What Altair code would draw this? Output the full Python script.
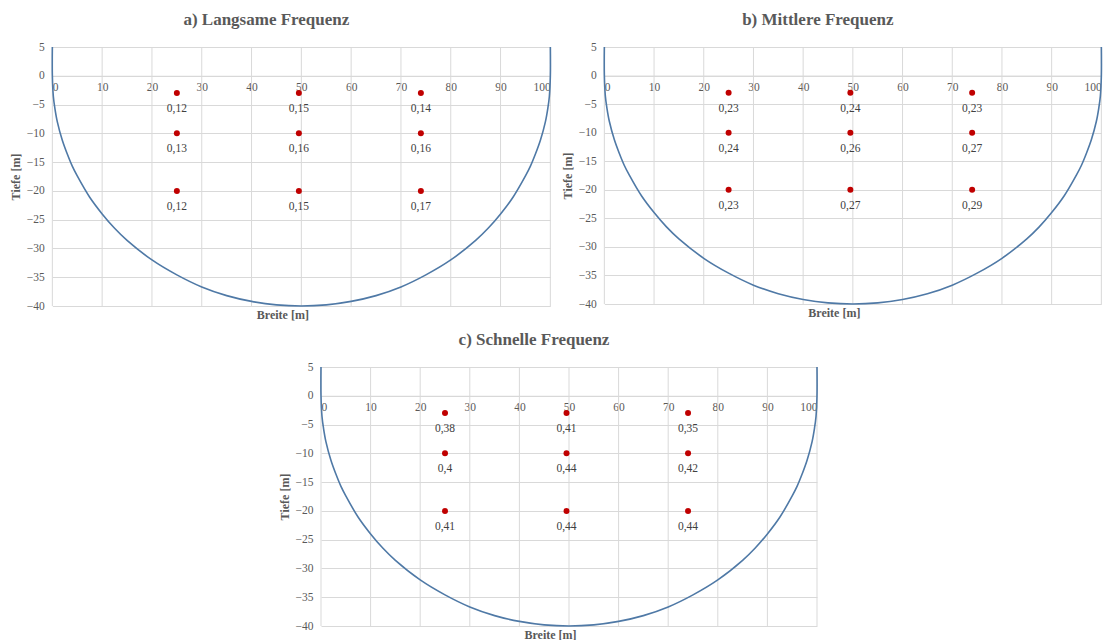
import altair as alt
import pandas as pd

# ---------------- data ----------------
panel_titles = ["a) Langsame Frequenz", "b) Mittlere Frequenz", "c) Schnelle Frequenz"]
point_x = [25, 49.5, 74]          # Breite [m] of the three measuring verticals
point_y = [-3, -10, -20]          # Tiefe [m] of the three measuring depths
# values per depth row (top, middle, bottom), columns left/middle/right
values_a = [[0.12, 0.15, 0.14], [0.13, 0.16, 0.16], [0.12, 0.15, 0.17]]
values_b = [[0.23, 0.24, 0.23], [0.24, 0.26, 0.27], [0.23, 0.27, 0.29]]
values_c = [[0.38, 0.41, 0.35], [0.40, 0.44, 0.42], [0.41, 0.44, 0.44]]

# outline of the basin
curve_x = [0, 0, 0.2, 0.5, 1, 2, 3, 4, 5, 7.5, 10, 12.5, 15, 20, 25, 30, 35, 40, 45, 50,
           55, 60, 65, 70, 75, 80, 85, 87.5, 90, 92.5, 95, 96, 97, 98, 99, 99.5, 99.8, 100, 100]
curve_y = [5, 0, -3.6, -5.6, -8.0, -11.2, -13.6, -15.7, -17.4, -21.1, -24, -26.5, -28.6, -32, -34.6, -36.7, -38.2, -39.2, -39.8, -40,
           -39.8, -39.2, -38.2, -36.7, -34.6, -32, -28.6, -26.5, -24, -21.1, -17.4, -15.7, -13.6, -11.2, -8.0, -5.6, -3.6, 0, 5]

x_ticks = [0, 10, 20, 30, 40, 50, 60, 70, 80, 90, 100]
y_ticks = [-40, -35, -30, -25, -20, -15, -10, -5, 0, 5]

SERIF = "Liberation Serif"
GRID = "#d9d9d9"
TXT = "#595959"

curve_df = pd.DataFrame({"x": curve_x, "y": curve_y, "o": list(range(len(curve_x)))})
grid_df = pd.DataFrame({"x": x_ticks})


def panel(title, vals, w, h):
    rows = []
    for i, yy in enumerate(point_y):
        for j, xx in enumerate(point_x):
            v = vals[i][j]
            rows.append({"x": xx, "y": yy, "lab": f"{v:g}".replace(".", ",")})
    pts = pd.DataFrame(rows)

    zero_off = -h * 40 / 45
    xscale = alt.Scale(domain=[0, 100], nice=False, zero=False)
    yscale = alt.Scale(domain=[-40, 5], nice=False, zero=False)
    xaxis = alt.Axis(values=x_ticks, offset=zero_off, grid=False, ticks=False,
                     domain=True, domainColor=GRID, domainWidth=1,
                     labelFont=SERIF, labelFontSize=11.5, labelColor=TXT, labelPadding=6,
                     title="Breite [m]", titleFont=SERIF, titleFontSize=12,
                     titleFontWeight="bold", titleColor=TXT,
                     titleY=-zero_off + 3, titleX=w / 2 - 19, titleAnchor="middle")
    yaxis = alt.Axis(values=y_ticks, grid=True, gridColor=GRID, gridWidth=1,
                     ticks=False, domain=False,
                     labelFont=SERIF, labelFontSize=11.5, labelColor=TXT, labelPadding=8,
                     title="Tiefe [m]", titleFont=SERIF, titleFontSize=12,
                     titleFontWeight="bold", titleColor=TXT, titlePadding=4)

    X = alt.X("x:Q", scale=xscale, axis=xaxis)
    Y = alt.Y("y:Q", scale=yscale, axis=yaxis)

    vgrid = alt.Chart(grid_df).mark_rule(color=GRID, strokeWidth=1).encode(x=X)
    curve = alt.Chart(curve_df).mark_line(color="#4F79A6", strokeWidth=1.6,
                                          interpolate="catmull-rom").encode(
        x=X, y=Y, order="o:Q")
    dots = alt.Chart(pts).mark_circle(size=36, color="#C00000", opacity=1).encode(x=X, y=Y)
    labs = alt.Chart(pts).mark_text(dy=16, font=SERIF, fontSize=11.5, color="#404040").encode(
        x=X, y=Y, text="lab:N")

    return alt.layer(vgrid, curve, dots, labs).properties(
        width=w, height=h,
        title=alt.TitleParams(title, font=SERIF, fontSize=17, fontWeight="bold",
                              color=TXT, anchor="middle", dx=-35, offset=12),
    )


a = panel(panel_titles[0], values_a, 498, 259)
b = panel(panel_titles[1], values_b, 497, 257)
c = panel(panel_titles[2], values_c, 496, 259)

# invisible spacer to the right of panel c so that the centred row sits where the original does
spacer = alt.Chart(pd.DataFrame({"x": [0]})).mark_point(opacity=0).encode(
    x=alt.X("x:Q", axis=None), y=alt.Y("x:Q", axis=None)
).properties(width=15, height=10)

top = alt.hconcat(a, b, spacing=7)
bottom = alt.hconcat(c, spacer, spacing=0)
chart = alt.vconcat(top, bottom, spacing=11, center=True).properties(
    padding={"left": 9, "top": 11, "right": 5, "bottom": 0}
).configure(background="white").configure_view(stroke="transparent", strokeOpacity=0)

chart.save("out.html", embed_options={"renderer": "svg", "actions": False})
